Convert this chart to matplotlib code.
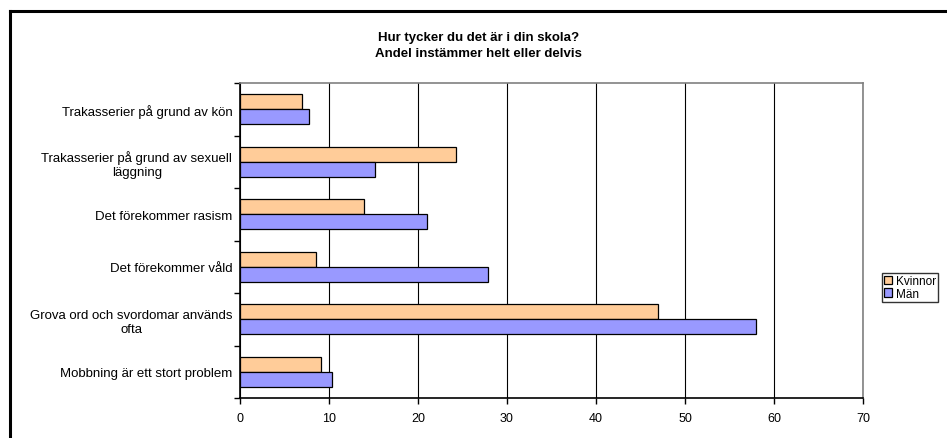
import matplotlib
matplotlib.use('Agg')
import matplotlib.pyplot as plt
import numpy as np
from matplotlib.lines import Line2D

plt.rcParams['font.family'] = ['Liberation Sans', 'DejaVu Sans']

categories = [
    'Trakasserier på grund av kön',
    'Trakasserier på grund av sexuell\nläggning',
    'Det förekommer rasism',
    'Det förekommer våld',
    'Grova ord och svordomar används\nofta',
    'Mobbning är ett stort problem',
]
kvinnor = [7.0, 24.3, 13.9, 8.5, 47.0, 9.1]
man = [7.8, 15.2, 21.0, 27.9, 58.0, 10.3]
xticks = [0, 10, 20, 30, 40, 50, 60, 70]

fig = plt.figure(figsize=(9.47, 4.39), dpi=100)
ax = fig.add_axes([0.2534, 0.0911, 0.6579, 0.7175])

y = np.arange(len(categories)) + 0.5
h = 0.286
ax.barh(y - h / 2, kvinnor, height=h, color='#FFCC99', edgecolor='black', linewidth=0.9, label='Kvinnor', zorder=3)
ax.barh(y + h / 2, man, height=h, color='#9999FF', edgecolor='black', linewidth=0.9, label='Män', zorder=3)

ax.set_xlim(0, 70)
ax.set_ylim(len(categories), 0)
ax.set_xticks(xticks)
ax.set_xticklabels([str(v) for v in xticks], fontsize=9)
ax.set_yticks(y)
ax.set_yticklabels(categories, fontsize=9.5, multialignment='center')
ax.set_yticks(np.arange(len(categories) + 1), minor=True)
ax.tick_params(axis='y', which='major', length=0, pad=5.5)
ax.tick_params(axis='y', which='minor', length=4, width=1, direction='out')
ax.tick_params(axis='x', length=4, width=1, direction='out', pad=6)

ax.grid(axis='x', color='black', linewidth=0.8, zorder=0)
for s in ['left', 'bottom']:
    ax.spines[s].set_color('black')
    ax.spines[s].set_linewidth(1.2)
for s in ['top', 'right']:
    ax.spines[s].set_color('#808080')
    ax.spines[s].set_linewidth(1.2)

fig.text(0.505, 0.895, 'Hur tycker du det är i din skola?\nAndel instämmer helt eller delvis',
         ha='center', va='center', fontsize=9.5, fontweight='bold', linespacing=1.45)

fig.legend(loc='center left', bbox_to_anchor=(0.931, 0.343), fontsize=8.5,
           frameon=True, fancybox=False, edgecolor='black', borderpad=0.2,
           handlelength=0.7, handleheight=0.7, handletextpad=0.3, labelspacing=0.05,
           borderaxespad=0)

# chart border (only top and left visible)
fig.add_artist(Line2D([0.0106, 0.0106], [0.0, 0.972], color='black', linewidth=2.2, transform=fig.transFigure))
fig.add_artist(Line2D([0.0106, 1.0], [0.972, 0.972], color='black', linewidth=2.2, transform=fig.transFigure))

fig.savefig('out.png', dpi=100)
